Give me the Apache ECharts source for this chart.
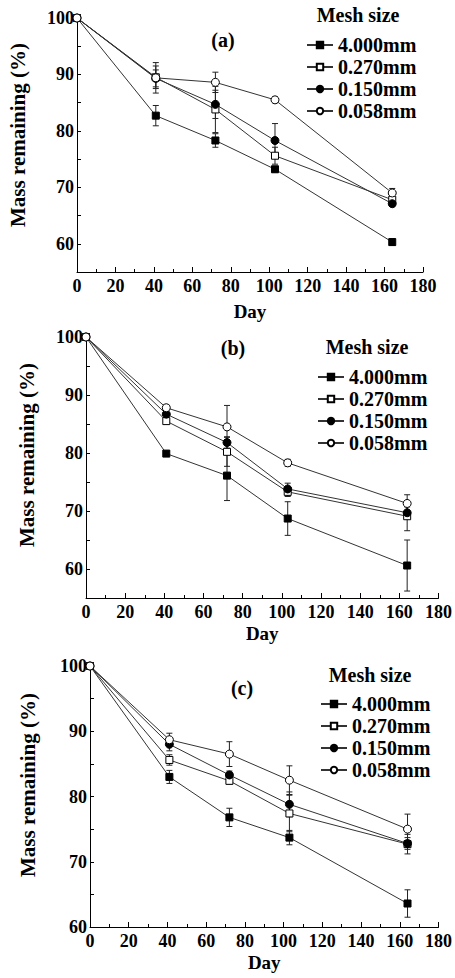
<!DOCTYPE html>
<html><head><meta charset="utf-8">
<script src="https://cdn.jsdelivr.net/npm/echarts@6/dist/echarts.min.js"></script>
<style>html,body{margin:0;padding:0;background:#fff}#c{width:455px;height:978px}</style>
</head><body><div id="c"></div>
<script>
// ---- data ----
const days = [0, 41, 72, 103, 164];
const meshSizes = ['4.000mm', '0.270mm', '0.150mm', '0.058mm'];
const panelLabels = ['(a)', '(b)', '(c)'];
const legendTitle = 'Mesh size';
const xAxisTitle = 'Day';
const yAxisTitle = 'Mass remaining (%)';

// panel (a)
const massA_4000 = [100, 82.7, 78.3, 73.2, 60.3];
const massA_0270 = [100, 89.5, 83.8, 75.6, 67.8];
const massA_0150 = [100, 89.3, 84.7, 78.3, 67.1];
const massA_0058 = [100, 89.4, 88.6, 85.5, 69.0];
const errA_4000 = [0.3, 1.8, 1.2, 0.5, 0.6];
const errA_0270 = [0.3, 2.0, 4.1, 1.5, 0.6];
const errA_0150 = [0.3, 1.5, 2.5, 3.0, 0.5];
const errA_0058 = [0.3, 2.7, 1.8, 0.5, 0.8];

// panel (b)
const massB_4000 = [100, 79.9, 76.1, 68.7, 60.6];
const massB_0270 = [100, 85.5, 80.2, 73.3, 69.1];
const massB_0150 = [100, 86.7, 81.8, 73.8, 69.7];
const massB_0058 = [100, 87.8, 84.5, 78.3, 71.3];
const errB_4000 = [0.3, 0.3, 4.3, 2.9, 4.4];
const errB_0270 = [0.3, 0.5, 2.5, 0.8, 2.5];
const errB_0150 = [0.3, 0.6, 1.0, 1.0, 1.0];
const errB_0058 = [0.3, 0.5, 3.7, 0.6, 1.5];

// panel (c)
const massC_4000 = [100, 83.0, 76.8, 73.7, 63.6];
const massC_0270 = [100, 85.6, 82.4, 77.4, 72.7];
const massC_0150 = [100, 88.0, 83.3, 78.8, 72.8];
const massC_0058 = [100, 88.7, 86.5, 82.5, 75.0];
const errC_4000 = [0.3, 1.0, 1.4, 1.1, 2.1];
const errC_0270 = [0.3, 0.8, 0.5, 2.8, 1.5];
const errC_0150 = [0.3, 1.0, 0.6, 1.9, 0.9];
const errC_0058 = [0.3, 1.0, 1.9, 2.2, 2.3];

const xMin = 0, xMax = 180, xStep = 20;
const yMaxAll = 100;
const yMinPanels = [55, 55, 60];

// ---- layout / style ----
const FONT = '"Liberation Serif", "Times New Roman", serif';
const panels = [
  { mass: [massA_4000, massA_0270, massA_0150, massA_0058], err: [errA_4000, errA_0270, errA_0150, errA_0058],
    grid: { left: 77, top: 18, width: 346, height: 254 }, nameGap: 30,
    legend: { left: 301, top: 30 }, tag: [223, 40], head: [358, 15], yname: [18, 135] },
  { mass: [massB_4000, massB_0270, massB_0150, massB_0058], err: [errB_4000, errB_0270, errB_0150, errB_0058],
    grid: { left: 86, top: 337, width: 356, height: 261 }, nameGap: 26,
    legend: { left: 312, top: 362 }, tag: [233, 348], head: [367, 347], yname: [27, 455] },
  { mass: [massC_4000, massC_0270, massC_0150, massC_0058], err: [errC_4000, errC_0270, errC_0150, errC_0058],
    grid: { left: 90, top: 666, width: 356, height: 261 }, nameGap: 26,
    legend: { left: 315, top: 689 }, tag: [242, 688], head: [370, 675], yname: [28, 785] }
];
const markers = [
  { symbol: 'rect', fill: '#000', size: 7 },
  { symbol: 'rect', fill: '#fff', size: 7 },
  { symbol: 'circle', fill: '#000', size: 8 },
  { symbol: 'circle', fill: '#fff', size: 8 }
];

const grid = [], xAxis = [], yAxis = [], series = [], legend = [], graphic = [];
panels.forEach((p, pi) => {
  grid.push(Object.assign({ containLabel: false }, p.grid));
  xAxis.push({
    type: 'value', gridIndex: pi, min: xMin, max: xMax, interval: xStep,
    name: xAxisTitle, nameLocation: 'middle', nameGap: p.nameGap,
    nameTextStyle: { fontFamily: FONT, fontWeight: 'bold', fontSize: 19, color: '#000' },
    axisLine: { show: true, lineStyle: { color: '#000', width: 1 } },
    axisTick: { show: true, inside: true, length: 5, lineStyle: { color: '#000' } },
    minorTick: { show: true, splitNumber: 2, length: 3, lineStyle: { color: '#000' } },
    axisLabel: { fontFamily: FONT, fontWeight: 'bold', fontSize: 18, color: '#000', margin: 5 },
    splitLine: { show: false }
  });
  yAxis.push({
    type: 'value', gridIndex: pi, min: yMinPanels[pi], max: yMaxAll, interval: 5,
    axisLine: { show: true, lineStyle: { color: '#000', width: 1 } },
    axisTick: { show: true, inside: true, length: 4, lineStyle: { color: '#000' } },
    axisLabel: { fontFamily: FONT, fontWeight: 'bold', fontSize: 18, color: '#000', margin: 3,
      formatter: v => (v % 10 === 0 ? String(v) : '') },
    splitLine: { show: false }
  });
  meshSizes.forEach((name, mi) => {
    const vals = p.mass[mi], errs = p.err[mi], mk = markers[mi];
    series.push({
      type: 'custom', xAxisIndex: pi, yAxisIndex: pi, silent: true, z: 1,
      data: days.map((d, i) => [d, vals[i] - errs[i], vals[i] + errs[i]]),
      encode: { x: 0, y: [1, 2] },
      renderItem: (params, api) => {
        const x = api.value(0);
        const lo = api.coord([x, api.value(1)]);
        const hi = api.coord([x, api.value(2)]);
        const w = 3, st = { stroke: '#222', lineWidth: 1 };
        return { type: 'group', children: [
          { type: 'line', shape: { x1: lo[0], y1: lo[1], x2: hi[0], y2: hi[1] }, style: st },
          { type: 'line', shape: { x1: lo[0] - w, y1: lo[1], x2: lo[0] + w, y2: lo[1] }, style: st },
          { type: 'line', shape: { x1: hi[0] - w, y1: hi[1], x2: hi[0] + w, y2: hi[1] }, style: st }
        ] };
      }
    });
    series.push({
      type: 'line', name, xAxisIndex: pi, yAxisIndex: pi, z: 3,
      data: days.map((d, i) => [d, vals[i]]),
      symbol: mk.symbol, symbolSize: mk.size, showAllSymbol: true,
      itemStyle: { color: mk.fill, borderColor: '#000', borderWidth: 1 },
      lineStyle: { color: '#333', width: 1 },
      emphasis: { disabled: true }
    });
  });
  legend.push({
    data: meshSizes, orient: 'vertical', left: p.legend.left, top: p.legend.top,
    itemWidth: 26, itemHeight: 8, itemGap: 2, selectedMode: false,
    textStyle: { fontFamily: FONT, fontWeight: 'bold', fontSize: 20, lineHeight: 20, color: '#000' }
  });
  graphic.push(
    { type: 'text', x: p.tag[0], y: p.tag[1], style: { text: panelLabels[pi], fontFamily: FONT, fontWeight: 'bold', fontSize: 20, fill: '#000', align: 'center', verticalAlign: 'middle' } },
    { type: 'text', x: p.head[0], y: p.head[1], style: { text: legendTitle, fontFamily: FONT, fontWeight: 'bold', fontSize: 20, fill: '#000', align: 'center', verticalAlign: 'middle' } },
    { type: 'text', x: p.yname[0], y: p.yname[1], rotation: Math.PI / 2, style: { text: yAxisTitle, fontFamily: FONT, fontWeight: 'bold', fontSize: 21, fill: '#000', align: 'center', verticalAlign: 'middle' } }
  );
});

const chart = echarts.init(document.getElementById('c'), null, { renderer: 'svg' });
chart.setOption({ animation: false, backgroundColor: '#fff', grid, xAxis, yAxis, series, legend, graphic });
</script>
</body></html>
